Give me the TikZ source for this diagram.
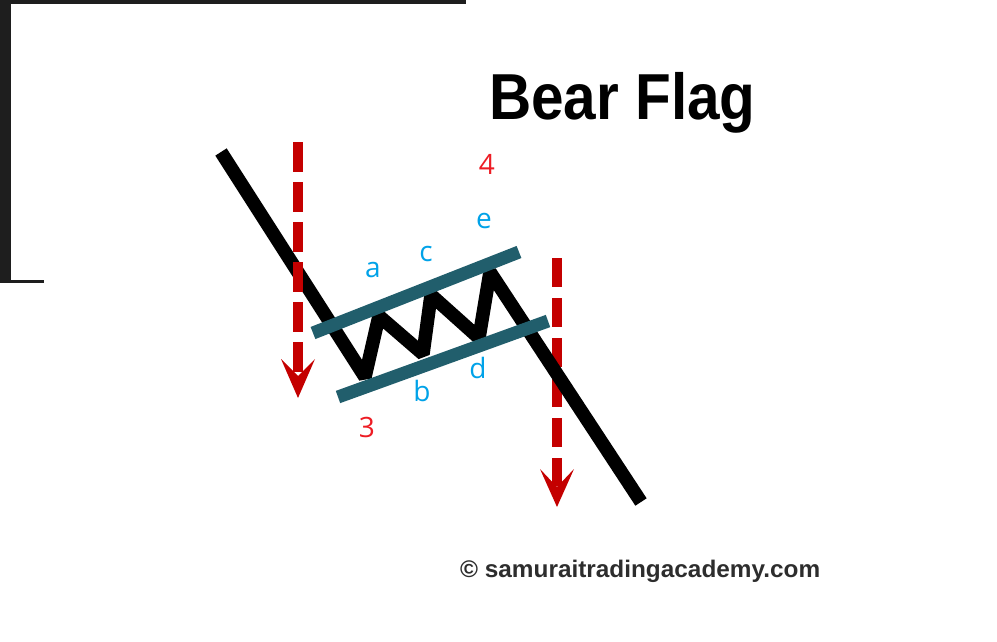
\documentclass[tikz,border=0pt]{standalone}
\usepackage{fontspec}
\setmainfont{Liberation Sans}
\newfontfamily\lblfont{Open Sans}
\definecolor{flagteal}{RGB}{33,94,108}
\definecolor{arrowred}{RGB}{196,0,0}
\definecolor{lblblue}{RGB}{0,162,232}
\definecolor{lblred}{RGB}{237,28,36}
\definecolor{framegray}{RGB}{30,30,30}
\definecolor{copygray}{RGB}{45,45,45}
\tikzset{
  price/.style={draw=black, line width=13.5pt, line join=miter, miter limit=2, line cap=butt},
  channel/.style={draw=flagteal, line width=13pt, line cap=butt},
  redshaft/.style={draw=arrowred, line width=10pt, line cap=butt},
  redhead/.style={fill=arrowred},
  lbl/.style={anchor=base, inner sep=0pt, font=\lblfont\fontsize{28}{28}\selectfont},
  bluelbl/.style={lbl, text=lblblue},
  redlbl/.style={lbl, text=lblred},
}
\begin{document}
\begin{tikzpicture}[x=1pt,y=-1pt]
\useasboundingbox (0,0) rectangle (997,642);
% frame remnants
\fill[framegray] (0,0) rectangle (466,4);
\fill[framegray] (0,0) rectangle (11,283);
\fill[framegray] (0,280) rectangle (44,283);
% price path coordinates
\coordinate (p0) at (221,152);
\coordinate (p1) at (365,377);
\coordinate (p2) at (379,316);
\coordinate (p3) at (423,354);
\coordinate (p4) at (431,295);
\coordinate (p5) at (479,338);
\coordinate (p6) at (490,272);
\coordinate (p7) at (641,502);
% right arrow (under price line)
\coordinate (ra0) at (557,258);
\coordinate (ra1) at (557,486);
\coordinate (raT) at (557,507);
\coordinate (raL) at (540,469);
\coordinate (raR) at (574,469);
\coordinate (raN) at (557,487);
\draw[redshaft, dash pattern=on 29pt off 11pt] (ra0) -- (ra1);
\fill[redhead] (raT) -- (raR) -- (raN) -- (raL) -- cycle;
% price line
\draw[price] (p0) -- (p1) -- (p2) -- (p3) -- (p4) -- (p5) -- (p6) -- (p7);
% channel lines
\coordinate (u0) at (313,333);
\coordinate (u1) at (519,252);
\coordinate (l0) at (338,397);
\coordinate (l1) at (548,321);
\draw[channel] (u0) -- (u1);
\draw[channel] (l0) -- (l1);
% left arrow (over price line)
\coordinate (la0) at (298,142);
\coordinate (la1) at (298,372);
\coordinate (laT) at (298,398);
\coordinate (laL) at (281,359);
\coordinate (laR) at (315,359);
\coordinate (laN) at (298,376);
\draw[redshaft, dash pattern=on 30pt off 10pt] (la0) -- (la1);
\fill[redhead] (laT) -- (laR) -- (laN) -- (laL) -- cycle;
% labels
\node[redlbl] (n4) at (487,175) {4};
\node[bluelbl] (ne) at (484,228) {e};
\node[bluelbl] (nc) at (426,261) {c};
\node[bluelbl] (na) at (373,277) {a};
\node[bluelbl] (nb) at (422,401) {b};
\node[bluelbl] (nd) at (478,378) {d};
\node[redlbl] (n3) at (367,437) {3};
% title
\node[anchor=base west, inner sep=0pt, font=\fontsize{65}{65}\selectfont\bfseries, xscale=0.9] (title) at (489,120) {Bear Flag};
% copyright
\node[anchor=base west, inner sep=0pt, font=\fontsize{24}{24}\selectfont\bfseries, text=copygray, xscale=1.015] (copy) at (460,577) {© samuraitradingacademy.com};
\end{tikzpicture}
\end{document}
